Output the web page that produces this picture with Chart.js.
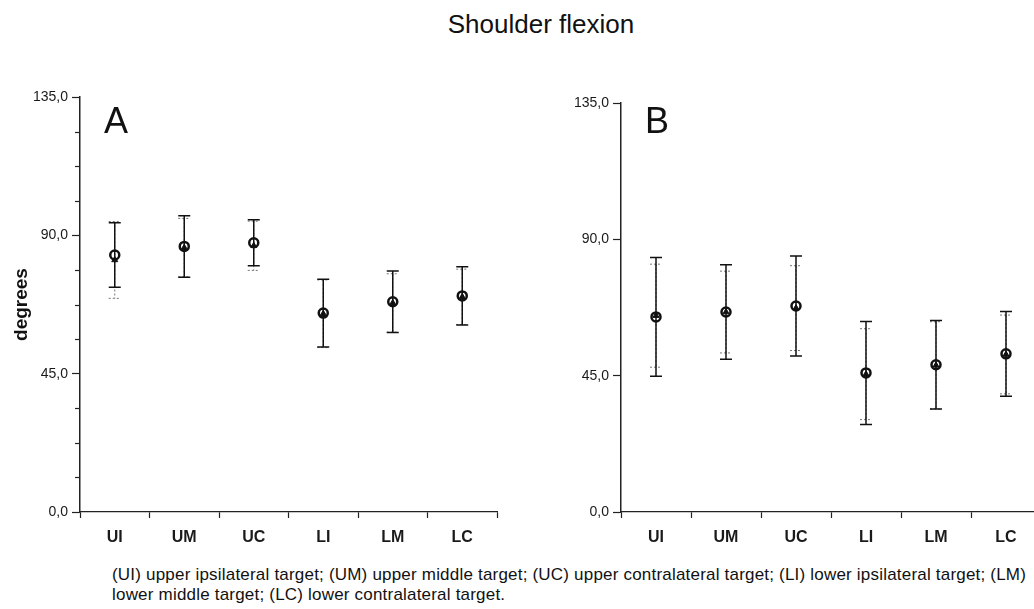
<!DOCTYPE html>
<html>
<head>
<meta charset="utf-8">
<script src="https://cdn.jsdelivr.net/npm/chart.js@4.4.0/dist/chart.umd.min.js"></script>
<style>
  html, body { margin: 0; padding: 0; background: #fff; overflow: hidden; }
  body { width: 1034px; height: 609px; position: relative; font-family: Arial, "Liberation Sans", sans-serif; color: #111; }
  .title { position: absolute; left: 0; width: 1082px; top: 9px; text-align: center; font-size: 26px; line-height: 30px; }
  .panel { position: absolute; top: 80px; height: 480px; }
  #wrapA { left: 0; width: 520px; }
  #wrapB { left: 540px; width: 510px; }
  .letter { position: absolute; top: 101px; font-size: 36px; line-height: 40px; }
  .caption { position: absolute; left: 112px; top: 565px; font-size: 17px; line-height: 20px; letter-spacing: 0.2px; width: 940px; white-space: nowrap; }
</style>
</head>
<body>
<div class="title">Shoulder flexion</div>
<div class="panel" id="wrapA"><canvas id="chartA"></canvas></div>
<div class="panel" id="wrapB"><canvas id="chartB"></canvas></div>
<div class="letter" style="left:104px">A</div>
<div class="letter" style="left:645px">B</div>
<div class="caption">(UI) upper ipsilateral target; (UM) upper middle target; (UC) upper contralateral target; (LI) lower ipsilateral target; (LM)<br>lower middle target; (LC) lower contralateral target.</div>

<script>
const categories = ['UI', 'UM', 'UC', 'LI', 'LM', 'LC'];
const yTicks = [0, 45, 90, 135];

// panel A - mean and SD, two groups
const aMeanSolid = [83.6, 86.4, 87.6, 64.7, 68.4, 70.3];
const aSdSolid = [10.5, 10.0, 7.5, 11.0, 10.0, 9.5];
const aMeanDotted = [82.0, 86.0, 86.6, 64.5, 68.0, 70.0];
const aSdDotted = [12.5, 9.5, 8.0, 11.0, 9.5, 9.0];

// panel B
const bMeanSolid = [64.4, 66.0, 68.0, 45.9, 48.6, 52.2];
const bSdSolid = [19.6, 15.6, 16.5, 17.0, 14.6, 14.0];
const bMeanDotted = [64.8, 66.0, 67.3, 45.5, 48.4, 52.0];
const bSdDotted = [17.0, 13.5, 14.0, 15.0, 14.4, 13.0];

const fmt = v => v.toFixed(1).replace('.', ',');

// draws mean +/- sd bars from each dataset's sd array
const errorBars = {
    id: 'errorBars',
    beforeDatasetsDraw(chart) {
        const { ctx } = chart;
        const y = chart.scales.y;
        chart.data.datasets.forEach((ds, i) => {
            const meta = chart.getDatasetMeta(i);
            ctx.save();
            ctx.strokeStyle = ds.barColor;
            ctx.lineWidth = ds.barWidth;
            ctx.setLineDash(ds.barDash);
            meta.data.forEach((pt, j) => {
                const top = y.getPixelForValue(ds.data[j] + ds.sd[j]);
                const bot = y.getPixelForValue(ds.data[j] - ds.sd[j]);
                ctx.beginPath();
                ctx.moveTo(pt.x, top);
                ctx.lineTo(pt.x, bot);
                ctx.moveTo(pt.x - 6, top);
                ctx.lineTo(pt.x + 6, top);
                ctx.moveTo(pt.x - 6, bot);
                ctx.lineTo(pt.x + 6, bot);
                ctx.stroke();
            });
            ctx.restore();
        });
    },
    afterDraw(chart, args, opts) {
        if (!opts.minorStep) return;
        const { ctx } = chart;
        const y = chart.scales.y;
        const x0 = chart.chartArea.left;
        ctx.save();
        ctx.strokeStyle = '#222';
        ctx.lineWidth = 1.2;
        for (let k = 1; k * opts.minorStep < y.max; k++) {
            if (k % 4 === 0) continue;
            const py = Math.round(y.getPixelForValue(k * opts.minorStep)) + 0.5;
            ctx.beginPath();
            ctx.moveTo(x0 - 5, py);
            ctx.lineTo(x0, py);
            ctx.stroke();
        }
        ctx.restore();
    }
};

function makeChart(id, meanSolid, sdSolid, meanDotted, sdDotted, cfg) {
    return new Chart(document.getElementById(id), {
        type: 'line',
        data: {
            labels: categories,
            datasets: [
                {
                    data: meanDotted,
                    sd: sdDotted,
                    showLine: false,
                    pointStyle: 'triangle',
                    pointRadius: 3.5,
                    backgroundColor: '#111',
                    borderColor: '#111',
                    borderWidth: 1,
                    barColor: '#777',
                    barWidth: 1,
                    barDash: [2, 2]
                },
                {
                    data: meanSolid,
                    sd: sdSolid,
                    showLine: false,
                    pointStyle: 'circle',
                    pointRadius: 4.5,
                    backgroundColor: 'rgba(255,255,255,0)',
                    borderColor: '#111',
                    borderWidth: 2.5,
                    barColor: '#111',
                    barWidth: 1.5,
                    barDash: []
                }
            ]
        },
        options: {
            responsive: true,
            maintainAspectRatio: false,
            animation: false,
            events: [],
            layout: { padding: cfg.padding },
            plugins: {
                legend: { display: false },
                tooltip: { enabled: false },
                errorBars: { minorStep: cfg.minorStep }
            },
            scales: {
                x: {
                    offset: true,
                    grid: { offset: true, drawOnChartArea: false, tickLength: 6, color: '#222', tickWidth: 1.2 },
                    border: { color: '#222', width: 1.3 },
                    ticks: { padding: 10, color: '#1a1a1a', font: { family: 'Arial', size: 16, weight: 'bold' } },
                    afterFit: s => { s.height = cfg.xHeight; }
                },
                y: {
                    min: 0,
                    max: 135,
                    afterBuildTicks: s => { s.ticks = yTicks.map(v => ({ value: v })); },
                    grid: { drawOnChartArea: false, tickLength: 8, color: '#222', tickWidth: 1.2 },
                    border: { color: '#222', width: 1.5 },
                    ticks: { padding: 4, color: '#1a1a1a', callback: v => fmt(v), font: { family: 'Arial', size: 14 } },
                    title: cfg.yTitle ? {
                        display: true,
                        text: 'degrees',
                        color: '#111',
                        padding: { top: 10, bottom: 0 },
                        font: { family: 'Arial', size: 19, weight: 'bold' }
                    } : { display: false },
                    afterFit: s => { s.width = cfg.yWidth; }
                }
            }
        },
        plugins: [errorBars]
    });
}

makeChart('chartA', aMeanSolid, aSdSolid, aMeanDotted, aSdDotted, {
    padding: { top: 17, right: 23, left: 0, bottom: 0 },
    xHeight: 48,
    yWidth: 80,
    yTitle: true,
    minorStep: 11.25
});

makeChart('chartB', bMeanSolid, bSdSolid, bMeanDotted, bSdDotted, {
    padding: { top: 23, right: 9, left: 0, bottom: 0 },
    xHeight: 48,
    yWidth: 81,
    yTitle: false,
    minorStep: 0
});
</script>
</body>
</html>
